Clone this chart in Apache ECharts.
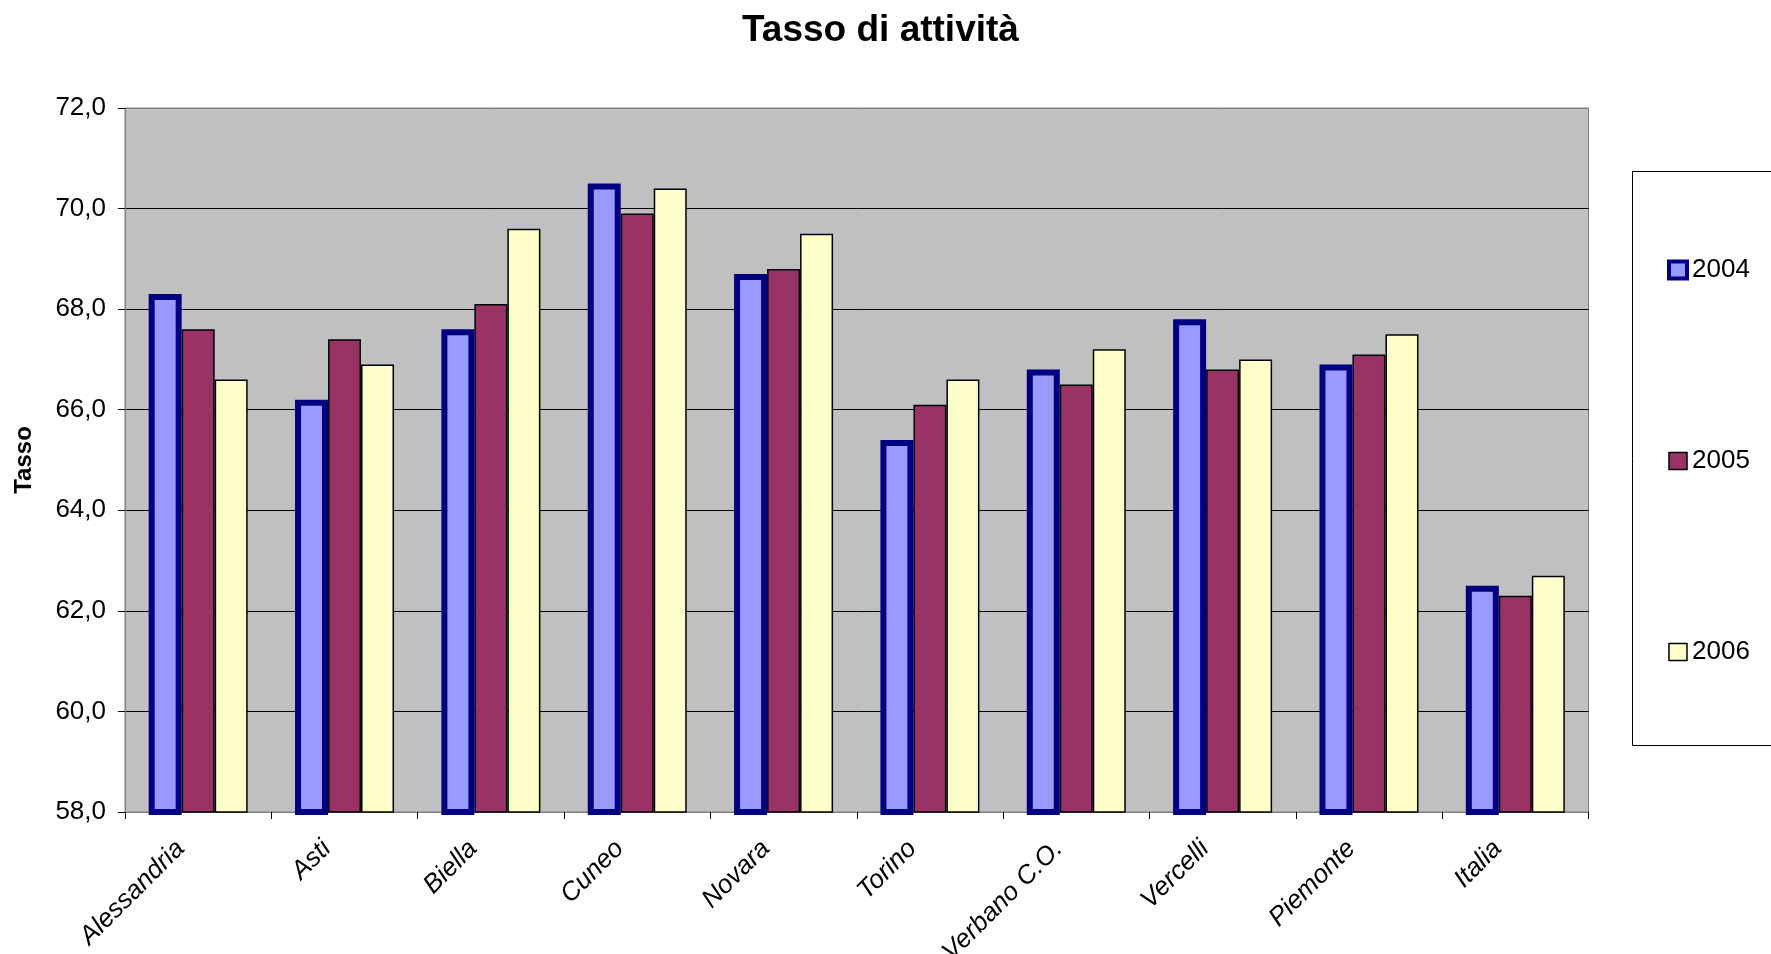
<!DOCTYPE html>
<html>
<head>
<meta charset="utf-8">
<script src="https://cdn.jsdelivr.net/npm/echarts@6/dist/echarts.min.js"></script>
<style>
  html, body { margin: 0; padding: 0; background: #fff; }
  #chart { width: 1771px; height: 954px; }
</style>
</head>
<body>
<div id="chart"></div>
<script>
// Tasso di attività per provincia, 2004-2006
const categories = ['Alessandria', 'Asti', 'Biella', 'Cuneo', 'Novara', 'Torino', 'Verbano C.O.', 'Vercelli', 'Piemonte', 'Italia'];
const years = ['2004', '2005', '2006'];
const values2004 = [68.3, 66.2, 67.6, 70.5, 68.7, 65.4, 66.8, 67.8, 66.9, 62.5];
const values2005 = [67.6, 67.4, 68.1, 69.9, 68.8, 66.1, 66.5, 66.8, 67.1, 62.3];
const values2006 = [66.6, 66.9, 69.6, 70.4, 69.5, 66.6, 67.2, 67.0, 67.5, 62.7];

const FONT = "'Liberation Sans', Arial, sans-serif";

const chart = echarts.init(document.getElementById('chart'), null, { renderer: 'canvas' });

chart.setOption({
  backgroundColor: '#ffffff',
  animation: false,
  title: {
    text: 'Tasso di attività',
    left: 737,
    top: 7,
    textStyle: { fontFamily: FONT, fontSize: 37, fontWeight: 'bold', color: '#000' }
  },
  graphic: [{
    type: 'rect',
    shape: { x: 1632.5, y: 171.5, width: 200, height: 574 },
    style: { fill: '#ffffff', stroke: '#000000', lineWidth: 1 },
    z: 0
  }],
  legend: {
    orient: 'vertical',
    left: 1662,
    top: 250,
    itemWidth: 18,
    itemHeight: 17,
    itemGap: 161,
    icon: 'rect',
    textStyle: { fontFamily: FONT, fontSize: 26, color: '#000', lineHeight: 30 },
    data: [
      { name: years[0], itemStyle: { borderWidth: 4, borderColor: '#000080' } },
      { name: years[1], itemStyle: { borderWidth: 1.5, borderColor: '#000' } },
      { name: years[2], itemStyle: { borderWidth: 1.5, borderColor: '#000' } }
    ]
  },
  grid: {
    left: 125,
    right: 182.5,
    top: 108,
    bottom: 142,
    outerBoundsMode: 'none',
    containLabel: false,
    show: true,
    backgroundColor: '#C0C0C0',
    borderColor: '#808080',
    borderWidth: 1
  },
  xAxis: {
    type: 'category',
    data: categories,
    boundaryGap: true,
    axisLine: { lineStyle: { color: '#808080', width: 1 } },
    axisTick: { show: true, length: 7, inside: false, lineStyle: { color: '#000' } },
    axisLabel: {
      rotate: 45,
      margin: 15,
      padding: [0, 25, 0, 0],
      interval: 0,
      fontFamily: FONT,
      fontSize: 26,
      fontStyle: 'italic',
      color: '#000'
    },
    splitLine: { show: false }
  },
  yAxis: {
    type: 'value',
    min: 58,
    max: 72,
    interval: 2,
    name: 'Tasso',
    nameLocation: 'middle',
    nameGap: 89,
    nameRotate: 90,
    nameTextStyle: { fontFamily: FONT, fontSize: 24, fontWeight: 'bold', color: '#000' },
    axisLine: { show: true, lineStyle: { color: '#808080', width: 1 } },
    axisTick: { show: true, length: 7, lineStyle: { color: '#000' } },
    axisLabel: {
      margin: 19,
      fontFamily: FONT,
      fontSize: 26,
      color: '#000',
      formatter: v => v.toFixed(1).replace('.', ',')
    },
    splitLine: {
      show: true,
      lineStyle: { color: ['#808080', '#000', '#000', '#000', '#000', '#000', '#000', '#808080'], width: 1 }
    }
  },
  series: [
    {
      name: years[0],
      type: 'bar',
      data: values2004,
      barWidth: 33,
      barGap: '0%',
      z: 3,
      itemStyle: { color: '#9999FF', borderColor: '#000080', borderWidth: 6 }
    },
    {
      name: years[1],
      type: 'bar',
      data: values2005,
      barWidth: 33,
      barGap: '0%',
      itemStyle: { color: '#993366', borderColor: '#000000', borderWidth: 1.5 }
    },
    {
      name: years[2],
      type: 'bar',
      data: values2006,
      barWidth: 33,
      barGap: '0%',
      itemStyle: { color: '#FFFFCC', borderColor: '#000000', borderWidth: 1.5 }
    }
  ]
});
</script>
</body>
</html>
